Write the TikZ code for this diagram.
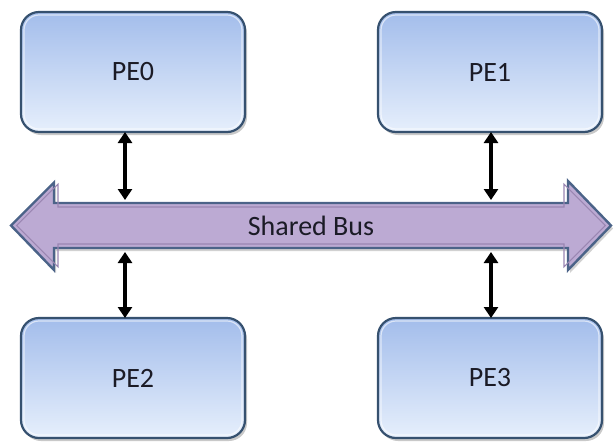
\documentclass[tikz,border=0pt]{standalone}
\usepackage{fontspec}
\setmainfont{Carlito}
\usetikzlibrary{arrows.meta,shadows}

\definecolor{boxtop}{HTML}{A3BDEB}
\definecolor{boxbot}{HTML}{E6EFFC}
\definecolor{boxline}{HTML}{36516F}
\definecolor{busfill}{HTML}{BCAAD3}
\definecolor{busline}{HTML}{4B6388}
\definecolor{businner}{HTML}{9A86B2}
\definecolor{inkdark}{HTML}{1B1B26}

\tikzset{
  pebox/.style={draw=boxline, line width=2.2pt, rounded corners=18pt,
    top color=boxtop, bottom color=boxbot,
    minimum width=224pt, minimum height=120pt, inner sep=0pt, outer sep=0pt,
    font=\fontsize{28}{32}\selectfont, text=inkdark,
    drop shadow={shadow xshift=2pt, shadow yshift=-3pt, opacity=0.3, fill=black!70}},
  bevel/.style={draw=white, opacity=0.6, line width=1.2pt, rounded corners=15pt},
  conn/.style={line width=3.4pt, black,
    {Triangle[width=14pt,length=11pt]}-{Triangle[width=14pt,length=11pt]}},
  busshape/.style={draw=busline, line width=2.4pt, fill=busfill, line join=miter},
  businline/.style={draw=businner, line width=1.1pt, line join=miter},
  buslabel/.style={font=\fontsize{28}{32}\selectfont, text=inkdark, inner sep=0pt}
}

\begin{document}
\begin{tikzpicture}[x=1pt,y=-1pt]
  \useasboundingbox (0,0) rectangle (613,445);

  % processing elements
  \node[pebox] (pe0) at (133,72)  {PE0};
  \node[pebox] (pe1) at (490,72)  {PE1};
  \node[pebox] (pe2) at (133,378) {PE2};
  \node[pebox] (pe3) at (490,378) {PE3};

  % inner highlight on each box
  \foreach \b in {pe0,pe1,pe2,pe3}{
    \draw[bevel] ([shift={(3,3)}]\b.north west) rectangle ([shift={(-3,-3)}]\b.south east);
  }

  % the shared bus: a double-headed block arrow
  \fill[black, opacity=0.18]
    (13,228.5) -- (56,185.5) -- (56,206) -- (570,206) -- (570,184) -- (613,228.5)
    -- (570,273) -- (570,251) -- (56,251) -- (56,273) -- cycle;
  \draw[busshape]
    (11,225.5) -- (54,182.5) -- (54,203) -- (568,203) -- (568,181) -- (611,225.5)
    -- (568,270) -- (568,248) -- (54,248) -- (54,270) -- cycle;
  \draw[businline]
    (16.7,225.5) -- (58,184.2) -- (58,207) -- (564,207) -- (564,184.2) -- (605.3,225.5)
    -- (564,266.8) -- (564,244) -- (58,244) -- (58,266.8) -- cycle;
  \node[buslabel] (bus) at (311,226) {Shared Bus};

  % attachment points on the bus edges
  \coordinate (bt0) at (125,200);
  \coordinate (bb0) at (125,252);
  \coordinate (bt1) at (491,200);
  \coordinate (bb1) at (491,252);

  % links between the elements and the bus
  \draw[conn] (pe0.south -| bt0) -- (bt0);
  \draw[conn] (pe1.south -| bt1) -- (bt1);
  \draw[conn] (bb0) -- (pe2.north -| bb0);
  \draw[conn] (bb1) -- (pe3.north -| bb1);
\end{tikzpicture}
\end{document}
